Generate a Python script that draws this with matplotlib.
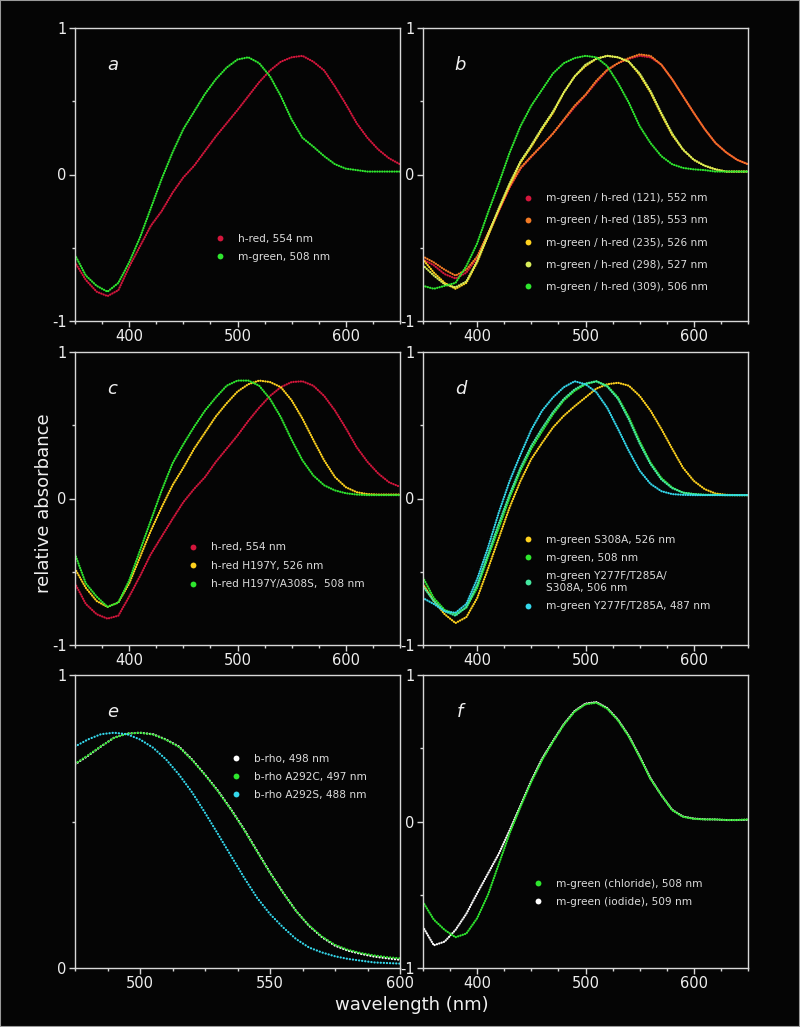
import matplotlib
matplotlib.use('Agg')
import matplotlib.pyplot as plt
from matplotlib.lines import Line2D
from matplotlib.patches import Rectangle
import numpy

# Wavelength grid (nm) for panels a-d and f
wl = list(range(350, 651, 10))
# Wavelength grid for panel e
wl_e = list(range(475, 601, 5))

# Panel a
a_hred = [-0.60, -0.72, -0.80, -0.83, -0.79, -0.63, -0.49, -0.35, -0.25, -0.125, -0.02, 0.06, 0.16, 0.26,
          0.35, 0.44, 0.535, 0.63, 0.71, 0.77, 0.80, 0.81, 0.77, 0.71, 0.60, 0.48, 0.35, 0.25, 0.17, 0.11, 0.07]
a_mgreen = [-0.55, -0.69, -0.76, -0.80, -0.74, -0.60, -0.43, -0.23, -0.03, 0.15, 0.31, 0.43, 0.55, 0.65,
            0.73, 0.785, 0.80, 0.76, 0.67, 0.535, 0.375, 0.25, 0.19, 0.125, 0.07, 0.04, 0.03, 0.02, 0.02, 0.02, 0.02]

# Panel b
b_121 = [-0.58, -0.62, -0.68, -0.71, -0.67, -0.57, -0.41, -0.25, -0.09, 0.04, 0.12, 0.20, 0.28, 0.37,
         0.46, 0.54, 0.63, 0.71, 0.76, 0.79, 0.81, 0.80, 0.75, 0.65, 0.535, 0.42, 0.31, 0.215, 0.15, 0.10, 0.07]
b_185 = [-0.56, -0.60, -0.65, -0.69, -0.65, -0.56, -0.40, -0.24, -0.08, 0.045, 0.125, 0.20, 0.28, 0.375,
         0.47, 0.545, 0.64, 0.715, 0.76, 0.795, 0.82, 0.81, 0.75, 0.65, 0.535, 0.42, 0.31, 0.215, 0.15, 0.10, 0.07]
b_235 = [-0.58, -0.67, -0.74, -0.78, -0.74, -0.60, -0.42, -0.24, -0.07, 0.08, 0.19, 0.31, 0.42, 0.56,
         0.67, 0.74, 0.79, 0.81, 0.80, 0.77, 0.68, 0.56, 0.41, 0.27, 0.17, 0.10, 0.06, 0.035, 0.02, 0.02, 0.02]
b_298 = [-0.62, -0.69, -0.75, -0.77, -0.73, -0.59, -0.41, -0.23, -0.06, 0.09, 0.20, 0.32, 0.43, 0.56,
         0.67, 0.75, 0.79, 0.81, 0.80, 0.77, 0.69, 0.57, 0.42, 0.28, 0.17, 0.10, 0.06, 0.035, 0.02, 0.02, 0.02]
b_309 = [-0.76, -0.78, -0.76, -0.74, -0.625, -0.47, -0.26, -0.06, 0.15, 0.33, 0.47, 0.58, 0.69, 0.76,
         0.795, 0.81, 0.80, 0.74, 0.625, 0.49, 0.33, 0.215, 0.125, 0.07, 0.045, 0.035, 0.03, 0.02, 0.02, 0.02, 0.02]

# Panel c
c_hred = [-0.58, -0.72, -0.79, -0.82, -0.80, -0.67, -0.53, -0.38, -0.26, -0.14, -0.025, 0.066, 0.146, 0.25,
          0.34, 0.43, 0.53, 0.62, 0.70, 0.76, 0.795, 0.80, 0.77, 0.70, 0.60, 0.48, 0.35, 0.25, 0.17, 0.11, 0.08]
c_h197y = [-0.48, -0.61, -0.70, -0.74, -0.71, -0.58, -0.40, -0.22, -0.06, 0.09, 0.21, 0.34, 0.45, 0.56,
           0.65, 0.73, 0.78, 0.805, 0.795, 0.76, 0.67, 0.545, 0.40, 0.26, 0.146, 0.077, 0.043, 0.03, 0.027, 0.027, 0.027]
c_a308s = [-0.38, -0.58, -0.67, -0.74, -0.71, -0.56, -0.355, -0.15, 0.055, 0.24, 0.37, 0.49, 0.60, 0.69,
           0.77, 0.805, 0.805, 0.77, 0.68, 0.555, 0.40, 0.26, 0.157, 0.09, 0.055, 0.036, 0.027, 0.023, 0.023, 0.023, 0.023]

# Panel d
d_s308a = [-0.585, -0.70, -0.79, -0.85, -0.81, -0.68, -0.48, -0.27, -0.06, 0.12, 0.27, 0.38, 0.485, 0.565,
           0.63, 0.69, 0.75, 0.78, 0.79, 0.77, 0.70, 0.60, 0.475, 0.34, 0.21, 0.12, 0.064, 0.034, 0.025, 0.023, 0.023]
d_mgreen = [-0.54, -0.68, -0.76, -0.79, -0.745, -0.61, -0.40, -0.20, 0.007, 0.19, 0.34, 0.46, 0.575, 0.67,
            0.735, 0.78, 0.80, 0.77, 0.69, 0.555, 0.39, 0.245, 0.14, 0.075, 0.04, 0.03, 0.025, 0.025, 0.023, 0.023, 0.023]
d_triple = [-0.60, -0.70, -0.77, -0.80, -0.74, -0.59, -0.38, -0.17, 0.03, 0.21, 0.36, 0.48, 0.59, 0.68,
            0.745, 0.785, 0.80, 0.765, 0.68, 0.54, 0.375, 0.235, 0.13, 0.07, 0.04, 0.03, 0.025, 0.025, 0.023, 0.023, 0.023]
d_y277f = [-0.68, -0.72, -0.77, -0.78, -0.72, -0.55, -0.335, -0.095, 0.12, 0.30, 0.47, 0.60, 0.69, 0.76,
           0.80, 0.78, 0.725, 0.62, 0.475, 0.325, 0.19, 0.10, 0.05, 0.03, 0.025, 0.023, 0.023, 0.023, 0.023, 0.023, 0.023]

# Panel e
e_brho = [0.695, 0.724, 0.756, 0.786, 0.80, 0.803, 0.798, 0.78, 0.756, 0.712, 0.66, 0.605, 0.542,
          0.474, 0.40, 0.326, 0.258, 0.195, 0.144, 0.105, 0.076, 0.059, 0.048, 0.039, 0.033, 0.028]
e_a292c = [0.697, 0.726, 0.757, 0.785, 0.80, 0.803, 0.797, 0.779, 0.754, 0.71, 0.659, 0.603, 0.54,
           0.472, 0.398, 0.325, 0.257, 0.195, 0.145, 0.107, 0.079, 0.062, 0.051, 0.043, 0.037, 0.033]
e_a292s = [0.756, 0.78, 0.798, 0.803, 0.798, 0.78, 0.752, 0.712, 0.66, 0.60, 0.53, 0.457, 0.383,
           0.309, 0.24, 0.184, 0.139, 0.099, 0.07, 0.053, 0.04, 0.031, 0.025, 0.019, 0.017, 0.015]

# Panel f
f_chloride = [-0.55, -0.67, -0.74, -0.79, -0.765, -0.66, -0.50, -0.29, -0.08, 0.10, 0.27, 0.42, 0.545, 0.66,
              0.75, 0.80, 0.81, 0.77, 0.69, 0.58, 0.44, 0.29, 0.18, 0.077, 0.032, 0.018, 0.014, 0.014, 0.01, 0.01, 0.014]
f_iodide = [-0.72, -0.845, -0.82, -0.74, -0.63, -0.49, -0.355, -0.22, -0.06, 0.11, 0.28, 0.43, 0.55, 0.665,
            0.755, 0.805, 0.815, 0.775, 0.695, 0.585, 0.445, 0.295, 0.18, 0.08, 0.034, 0.02, 0.015, 0.014, 0.01, 0.01, 0.012]

RED = '#d4163c'
ORANGE = '#f27a24'
YELLOW = '#ffd21e'
LIME = '#d8ee5a'
GREEN = '#2ee62e'
MINT = '#44e8a0'
CYAN = '#34d8ec'
WHITE = '#ffffff'
FG = '#d8d8d8'

panels = {
    'a': [(a_hred, RED, 'h-red, 554 nm'), (a_mgreen, GREEN, 'm-green, 508 nm')],
    'b': [(b_121, RED, 'm-green / h-red (121), 552 nm'), (b_185, ORANGE, 'm-green / h-red (185), 553 nm'),
          (b_235, YELLOW, 'm-green / h-red (235), 526 nm'), (b_298, LIME, 'm-green / h-red (298), 527 nm'),
          (b_309, GREEN, 'm-green / h-red (309), 506 nm')],
    'c': [(c_hred, RED, 'h-red, 554 nm'), (c_h197y, YELLOW, 'h-red H197Y, 526 nm'),
          (c_a308s, GREEN, 'h-red H197Y/A308S,  508 nm')],
    'd': [(d_s308a, YELLOW, 'm-green S308A, 526 nm'), (d_mgreen, GREEN, 'm-green, 508 nm'),
          (d_triple, MINT, 'm-green Y277F/T285A/\nS308A, 506 nm'), (d_y277f, CYAN, 'm-green Y277F/T285A, 487 nm')],
    'e': [(e_brho, WHITE, 'b-rho, 498 nm'), (e_a292c, GREEN, 'b-rho A292C, 497 nm'),
          (e_a292s, CYAN, 'b-rho A292S, 488 nm')],
    'f': [(f_chloride, GREEN, 'm-green (chloride), 508 nm'), (f_iodide, WHITE, 'm-green (iodide), 509 nm')],
}

# panel top-left corners in pixels
W, H = 800, 1027
boxes = {'a': (75, 28), 'b': (423, 28), 'c': (75, 352), 'd': (423, 352), 'e': (75, 675), 'f': (423, 675)}
legend_anchor = {'a': (0.43, 0.297), 'b': (0.307, 0.436), 'c': (0.347, 0.35), 'd': (0.307, 0.376),
                 'e': (0.479, 0.731), 'f': (0.338, 0.305)}
legend_spacing = {'a': 0.75, 'b': 1.15, 'c': 0.8, 'd': 0.75, 'e': 0.75, 'f': 0.8}
# in panel f the chloride trace sits on top of the iodide one
draw_reversed = {'f'}

fig = plt.figure(figsize = (8, 10.27), dpi = 100, facecolor = '#050505')
fig.patches.append(Rectangle((0, 0), 1, 1, transform = fig.transFigure, fill = False,
                             edgecolor = '#9a9a9a', linewidth = 1.5))

for key, series in panels.items():
    x0, y0 = boxes[key]
    ax = fig.add_axes([x0 / W, 1 - (y0 + 293) / H, 325 / W, 293 / H])
    ax.set_facecolor('#050505')
    x = wl_e if key == 'e' else wl
    gap = 1.3 if key == 'e' else 1.0
    order = series[::-1] if key in draw_reversed else series
    for vals, col, lab in order:
        ax.plot(x, vals, color = col, linewidth = 1.6, linestyle = (0, (0.1, gap)),
                dash_capstyle = 'round')
    if key == 'e':
        ax.set_xlim(475, 600)
        ax.set_ylim(0, 1)
        ax.set_xticks([500, 550, 600])
        ax.set_xticks(numpy.arange(475, 601, 12.5), minor = True)
        ax.set_yticks([0, 1])
        ax.set_yticklabels(['0', '1'])
        ax.set_yticks([0.5], minor = True)
    else:
        ax.set_xlim(350, 650)
        ax.set_ylim(-1, 1)
        ax.set_xticks([400, 500, 600])
        ax.set_xticks(range(350, 651, 25), minor = True)
        ax.set_yticks([-1, 0, 1])
        ax.set_yticklabels(['-1', '0', '1'])
        ax.set_yticks([-0.5, 0.5], minor = True)
    for sp in ax.spines.values():
        sp.set_color(FG)
        sp.set_linewidth(1.0)
    ax.tick_params(which = 'major', direction = 'out', length = 4, width = 1, color = FG,
                   labelcolor = '#eeeeee', labelsize = 10.5, pad = 2)
    ax.tick_params(which = 'minor', direction = 'out', length = 2, width = 1, color = FG)
    ax.text(0.115, 0.875, key, transform = ax.transAxes, color = '#f0f0f0', fontsize = 13,
            style = 'italic', ha = 'center', va = 'center')
    handles = [Line2D([], [], linestyle = 'none', marker = 'o', markersize = 4.2, color = col,
                      markeredgewidth = 0) for vals, col, lab in series]
    labels = [lab for vals, col, lab in series]
    leg = ax.legend(handles, labels, loc = 'upper left', bbox_to_anchor = legend_anchor[key],
                    frameon = False, fontsize = 7.6, handlelength = 1.0, handletextpad = 1.2,
                    borderpad = 0, borderaxespad = 0, labelspacing = legend_spacing[key])
    for t in leg.get_texts():
        t.set_color('#dcdcdc')
        t.set_linespacing(1.35)

fig.text(0.055, 0.51, 'relative absorbance', rotation = 90, color = '#f0f0f0', fontsize = 13,
         ha = 'center', va = 'center')
fig.text(0.515, 0.0214, 'wavelength (nm)', color = '#f0f0f0', fontsize = 13, ha = 'center', va = 'center')

plt.savefig('out.png', dpi = 100, facecolor = fig.get_facecolor())
